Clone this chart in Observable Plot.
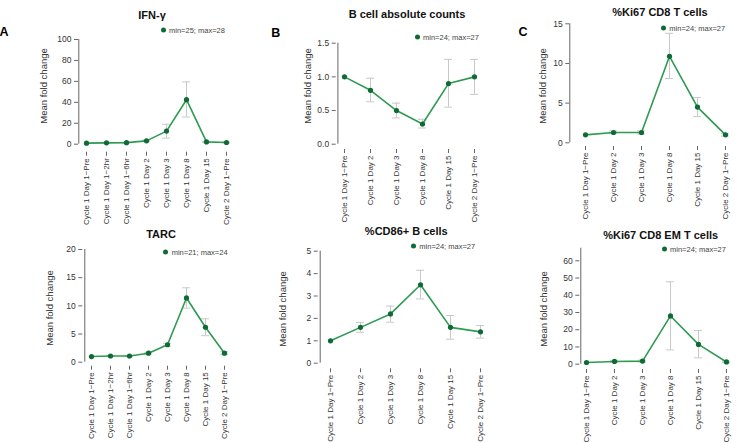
<!DOCTYPE html>
<html><head><meta charset="utf-8">
<script src="https://cdn.jsdelivr.net/npm/d3@7"></script>
<script src="https://cdn.jsdelivr.net/npm/@observablehq/plot@0.6"></script>
<style>
body{margin:0;background:#fff;font-family:"Liberation Sans",Arial,sans-serif;}
#fig{position:relative;width:738px;height:443px;overflow:hidden;background:#fff;}
.panel{position:absolute;overflow:visible;}
.panel svg{overflow:visible;}
.title{position:absolute;font-weight:bold;font-size:11px;color:#111;white-space:nowrap;transform:translate(-50%,-50%);}
.letter{position:absolute;font-weight:bold;font-size:12.5px;color:#000;transform:translate(-50%,-50%);}
.ylab{position:absolute;font-size:9.5px;color:#333;white-space:nowrap;transform:translate(-50%,-50%) rotate(-90deg);}
.legend{position:absolute;font-size:7.5px;color:#444;white-space:nowrap;transform:translate(0,-50%);display:flex;align-items:center;}
.legend i{display:inline-block;width:5px;height:5px;border-radius:50%;background:#0f6b36;margin-left:-2.5px;margin-right:3.5px;}
</style></head>
<body><div id="fig"></div>
<script>
// ---------- data ----------
const timepoints8 = ["Cycle 1 Day 1−Pre","Cycle 1 Day 1−2hr","Cycle 1 Day 1−6hr","Cycle 1 Day 2","Cycle 1 Day 3","Cycle 1 Day 8","Cycle 1 Day 15","Cycle 2 Day 1−Pre"];
const timepoints6 = ["Cycle 1 Day 1−Pre","Cycle 1 Day 2","Cycle 1 Day 3","Cycle 1 Day 8","Cycle 1 Day 15","Cycle 2 Day 1−Pre"];

const ifnMean = [1.0, 1.3, 1.5, 3.2, 12.5, 42.5, 2.2, 1.6];
const ifnLow  = [null, 1.0, 1.1, 2.4, 5.8, 26.0, 1.7, 1.2];
const ifnHigh = [null, 1.6, 1.9, 4.0, 19.0, 59.5, 2.7, 2.0];
const ifnTicks = [0, 20, 40, 60, 80, 100];

const bcellMean = [1.0, 0.8, 0.5, 0.3, 0.9, 1.0];
const bcellLow  = [null, 0.63, 0.39, 0.24, 0.55, 0.74];
const bcellHigh = [null, 0.98, 0.61, 0.37, 1.26, 1.26];
const bcellTicks = [0, 0.5, 1.0, 1.5];

const ki67Mean = [1.0, 1.3, 1.3, 10.9, 4.5, 1.0];
const ki67Low  = [null, 1.15, 1.1, 8.1, 3.3, 0.85];
const ki67High = [null, 1.5, 1.5, 13.8, 5.7, 1.15];
const ki67Ticks = [0, 5, 10, 15];

const tarcMean = [1.0, 1.1, 1.1, 1.6, 3.1, 11.4, 6.2, 1.6];
const tarcLow  = [null, 1.0, 1.0, 1.45, 2.85, 9.6, 4.7, 1.4];
const tarcHigh = [null, 1.2, 1.2, 1.75, 3.35, 13.2, 7.7, 1.85];
const tarcTicks = [0, 5, 10, 15, 20];

const cd86Mean = [1.0, 1.6, 2.2, 3.5, 1.6, 1.4];
const cd86Low  = [null, 1.38, 1.83, 2.87, 1.07, 1.12];
const cd86High = [null, 1.82, 2.55, 4.15, 2.13, 1.68];
const cd86Ticks = [0, 1, 2, 3, 4, 5];

const ki67emMean = [1.0, 1.6, 1.8, 28.0, 11.5, 1.3];
const ki67emLow  = [null, 1.1, 1.2, 8.3, 3.7, 0.9];
const ki67emHigh = [null, 2.1, 2.4, 47.8, 19.5, 1.7];
const ki67emTicks = [0, 10, 20, 30, 40, 50, 60];

const titles = ["IFN-γ", "B cell absolute counts", "%Ki67 CD8 T cells", "TARC", "%CD86+ B cells", "%Ki67 CD8 EM T cells"];
const legendLabels = ["min=25; max=28", "min=24; max=27", "min=24; max=27", "min=21; max=24", "min=24; max=27", "min=24; max=27"];
const panelLetters = ["A", "B", "C"];
const yLabel = "Mean fold change";

// ---------- layout ----------
const layout = [
  {left:0,   top:0,   w:240, h:230, ml:78,   mr:14.3, mt:39,   mb:78.3, il:7.7,  ib:8,   yTop:100,  title:[152,15],   leg:[163,30],    ylab:[43,86]},
  {left:245, top:0,   w:245, h:230, ml:90.7, mr:14.3, mt:42.7, mb:81,   il:6.6,  ib:5.3, yTop:1.5,  title:[407,14.3], leg:[417,36.7],  ylab:[306.7,86]},
  {left:490, top:0,   w:248, h:230, ml:79.3, mr:12.3, mt:23.3, mb:84,   il:15.7, ib:3.7, yTop:15,   title:[660,12.3], leg:[663.3,28.3],ylab:[542.3,86]},
  {left:0,   top:220, w:240, h:223, ml:82.3, mr:13.3, mt:29,   mb:77.3, il:6.7,  ib:4,   yTop:20,   title:[161,234.3],leg:[165.7,251.7],ylab:[49,307.5]},
  {left:245, top:220, w:245, h:223, ml:72.7, mr:8.7,  mt:30.7, mb:74.7, il:10.3, ib:5.6, yTop:5,    title:[406.3,231],leg:[413.3,245.7],ylab:[281.7,308.7]},
  {left:490, top:220, w:248, h:223, ml:89.3, mr:11.7, mt:27.7, mb:74,   il:5.7,  ib:5.3, yTop:67.3, title:[660.7,235],leg:[664,249.3],  ylab:[543.3,309]}
];
const letterPos = [[4,32],[275.7,33],[523,32]];

const series = [
  {cats:timepoints8, mean:ifnMean,    low:ifnLow,    high:ifnHigh,    ticks:ifnTicks,    fmt:d3.format("d")},
  {cats:timepoints6, mean:bcellMean,  low:bcellLow,  high:bcellHigh,  ticks:bcellTicks,  fmt:d3.format(".1f")},
  {cats:timepoints6, mean:ki67Mean,   low:ki67Low,   high:ki67High,   ticks:ki67Ticks,   fmt:d3.format("d")},
  {cats:timepoints8, mean:tarcMean,   low:tarcLow,   high:tarcHigh,   ticks:tarcTicks,   fmt:d3.format("d")},
  {cats:timepoints6, mean:cd86Mean,   low:cd86Low,   high:cd86High,   ticks:cd86Ticks,   fmt:d3.format("d")},
  {cats:timepoints6, mean:ki67emMean, low:ki67emLow, high:ki67emHigh, ticks:ki67emTicks, fmt:d3.format("d")}
];

const LINE = "#2e9a52", DOT = "#0f6b36", ERR = "#c8c8c8", AXIS = "#666";
const fig = document.getElementById("fig");

function add(cls, text, x, y) {
  const d = document.createElement("div");
  d.className = cls; d.textContent = text;
  d.style.left = x + "px"; d.style.top = y + "px";
  fig.appendChild(d); return d;
}

series.forEach((s, k) => {
  const L = layout[k];
  const rows = s.cats.map((t, i) => ({t, m: s.mean[i], lo: s.low[i], hi: s.high[i]}));
  const err = rows.filter(d => d.lo != null);
  const first = s.cats[0], last = s.cats[s.cats.length - 1];
  const chart = Plot.plot({
    width: L.w, height: L.h,
    marginLeft: L.ml, marginRight: L.mr, marginTop: L.mt, marginBottom: L.mb,
    x: {type: "point", domain: s.cats, padding: 0, insetLeft: L.il},
    y: {domain: [0, L.yTop], insetBottom: L.ib},
    style: {fontFamily: '"Liberation Sans", Arial, sans-serif', fontSize: "8px", color: "#333", background: "transparent", overflow: "visible"},
    marks: [
      Plot.ruleX([first], {y1: 0, y2: L.yTop, dx: -L.il, stroke: AXIS}),
      Plot.ruleY([0], {x1: first, x2: last, dy: L.ib, stroke: AXIS}),
      Plot.axisY({ticks: s.ticks, tickFormat: s.fmt, tickSize: 4, tickPadding: 3, label: null, stroke: AXIS, fontSize: "8.5px"}),
      Plot.axisX({tickRotate: -90, tickSize: 4, tickPadding: 2, label: null, stroke: AXIS, fontSize: "8px"}),
      Plot.ruleX(err, {x: "t", y1: "lo", y2: "hi", stroke: ERR, strokeWidth: 1}),
      Plot.ruleY(err, {x1: "t", x2: "t", y: "lo", insetLeft: -4, insetRight: -4, stroke: ERR}),
      Plot.ruleY(err, {x1: "t", x2: "t", y: "hi", insetLeft: -4, insetRight: -4, stroke: ERR}),
      Plot.line(rows, {x: "t", y: "m", stroke: LINE, strokeWidth: 1.6}),
      Plot.dot(rows, {x: "t", y: "m", r: 2.6, fill: DOT, stroke: "none"})
    ]
  });
  const holder = document.createElement("div");
  holder.className = "panel";
  holder.style.left = L.left + "px"; holder.style.top = L.top + "px";
  holder.style.width = L.w + "px"; holder.style.height = L.h + "px";
  holder.appendChild(chart);
  fig.appendChild(holder);

  add("title", titles[k], L.title[0], L.title[1]);
  add("ylab", yLabel, L.ylab[0], L.ylab[1]);
  const lg = add("legend", "", L.leg[0], L.leg[1]);
  const dot = document.createElement("i");
  lg.appendChild(dot);
  lg.appendChild(document.createTextNode(legendLabels[k]));
});

panelLetters.forEach((c, i) => add("letter", c, letterPos[i][0], letterPos[i][1]));
</script>
</body></html>
